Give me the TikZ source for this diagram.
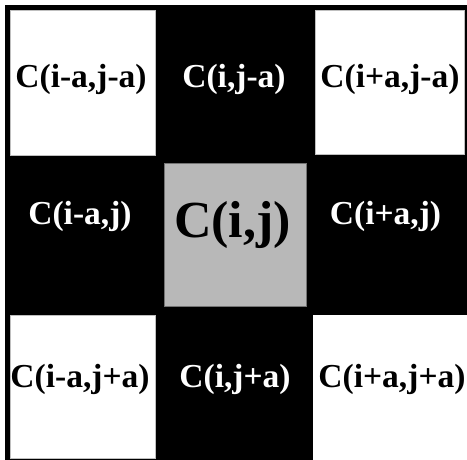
\documentclass[tikz,border=0pt]{standalone}
\usepackage{fontspec}
\setmainfont{Liberation Serif}
\definecolor{cellgray}{RGB}{184,184,184}
\begin{document}
\begin{tikzpicture}[x=1pt, y=-1pt, line width=0.8pt,
  lbl/.style={anchor=base, inner sep=0pt, font=\bfseries\fontsize{33.5}{38}\selectfont},
  whitecell/.style={fill=white, draw=black!25},
  centercell/.style={fill=cellgray, draw=black!55}]
  \useasboundingbox (0,0) rectangle (467,460);
  % black ground of the 3x3 grid
  \fill[black] (5,5) rectangle (467,460);
  % white corner cells and the gray centre cell
  \draw[whitecell] (10,10) rectangle (155,155);
  \draw[whitecell] (315,10) rectangle (464,154);
  \draw[whitecell] (10,315) rectangle (155,458);
  \fill[white] (313,315) rectangle (467,460);
  \draw[centercell] (164,163) rectangle (306,306);
  % labels, top row
  \node[lbl, text=black] (nw) at (81,88) {C(i-a,j-a)};
  \node[lbl, text=white] (n) at (234,88) {C(i,j-a)};
  \node[lbl, text=black] (ne) at (390,88) {C(i+a,j-a)};
  % labels, middle row
  \node[lbl, text=white] (w) at (80,225) {C(i-a,j)};
  \node[lbl, text=black, font=\bfseries\fontsize{52}{56}\selectfont] (c) at (232.5,237) {C(i,j)};
  \node[lbl, text=white] (e) at (385.5,225) {C(i+a,j)};
  % labels, bottom row
  \node[lbl, text=black] (sw) at (80,388) {C(i-a,j+a)};
  \node[lbl, text=white] (s) at (235,388) {C(i,j+a)};
  \node[lbl, text=black] (se) at (392,388) {C(i+a,j+a)};
\end{tikzpicture}
\end{document}
